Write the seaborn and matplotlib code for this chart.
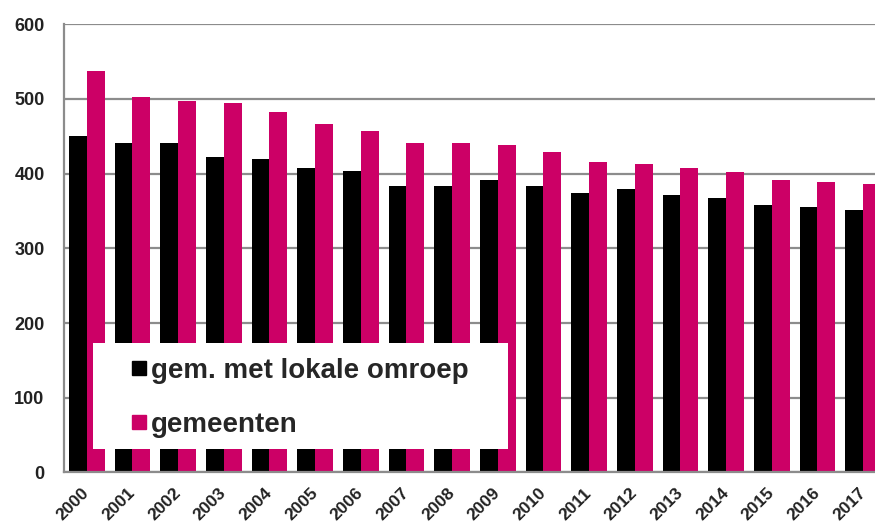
import matplotlib
matplotlib.use("Agg")
import matplotlib.pyplot as plt
import seaborn as sns
import pandas as pd
from matplotlib.lines import Line2D
from matplotlib.patches import Rectangle

years = [str(y) for y in range(2000, 2018)]
lokale_omroep = [450, 441, 441, 422, 419, 408, 403, 384, 383, 391, 384, 374, 379, 372, 367, 358, 356, 352]
gemeenten = [537, 503, 497, 495, 482, 466, 457, 441, 441, 439, 429, 416, 413, 407, 402, 391, 389, 386]
series_names = ["gem. met lokale omroep", "gemeenten"]
colors = ["#000000", "#CC0066"]

df = pd.DataFrame({
    "jaar": years * 2,
    "aantal": lokale_omroep + gemeenten,
    "reeks": [series_names[0]] * len(years) + [series_names[1]] * len(years),
})

sns.set_theme(style="white")
plt.rcParams["font.family"] = ["Liberation Sans", "DejaVu Sans"]

fig = plt.figure(figsize=(8.75, 5.3), dpi=100)
ax = fig.add_axes([64 / 875, 0.1085, 822 / 875, 0.8458])

sns.barplot(data=df, x="jaar", y="aantal", hue="reeks", palette=colors,
            width=0.78, ax=ax, saturation=1, linewidth=0, zorder=2)

ax.set_ylim(0, 600)
ax.set_xlim(-0.5, 17.5)
ax.set_yticks(range(0, 601, 100))
ax.yaxis.grid(True, color="#8c8c8c", linewidth=1.6, zorder=0)
ax.set_axisbelow(True)
ax.set_xlabel("")
ax.set_ylabel("")
for side in ["top", "right"]:
    ax.spines[side].set_visible(False)
for side in ["left", "bottom"]:
    ax.spines[side].set_color("#8c8c8c")
    ax.spines[side].set_linewidth(1.6)

ax.tick_params(axis="y", length=0, pad=14, labelsize=13, labelcolor="#222222")
ax.tick_params(axis="x", length=0, pad=13, labelsize=12.5, labelcolor="#222222")
for lab in ax.get_yticklabels():
    lab.set_fontweight("bold")
for lab in ax.get_xticklabels():
    lab.set_fontweight("bold")
    lab.set_rotation(45)
    lab.set_ha("right")
    lab.set_va("center")
    lab.set_rotation_mode("anchor")

ax.get_legend().remove()
ax.add_patch(Rectangle((0.0356, 0.052), 0.505, 0.237, transform=ax.transAxes,
                       facecolor="white", edgecolor="none", zorder=5))
handles = [Line2D([], [], marker="s", linestyle="none", markersize=10,
                  markerfacecolor=c, markeredgecolor=c) for c in colors]
leg = ax.legend(handles, series_names, loc="center left",
                bbox_to_anchor=(0.0805, 0.166), frameon=False, borderpad=0,
                borderaxespad=0, handlelength=0.6, handletextpad=0.15,
                labelspacing=1.0, prop={"size": 20, "weight": "bold"})
leg.set_zorder(6)

fig.savefig("out.png", dpi=100)
